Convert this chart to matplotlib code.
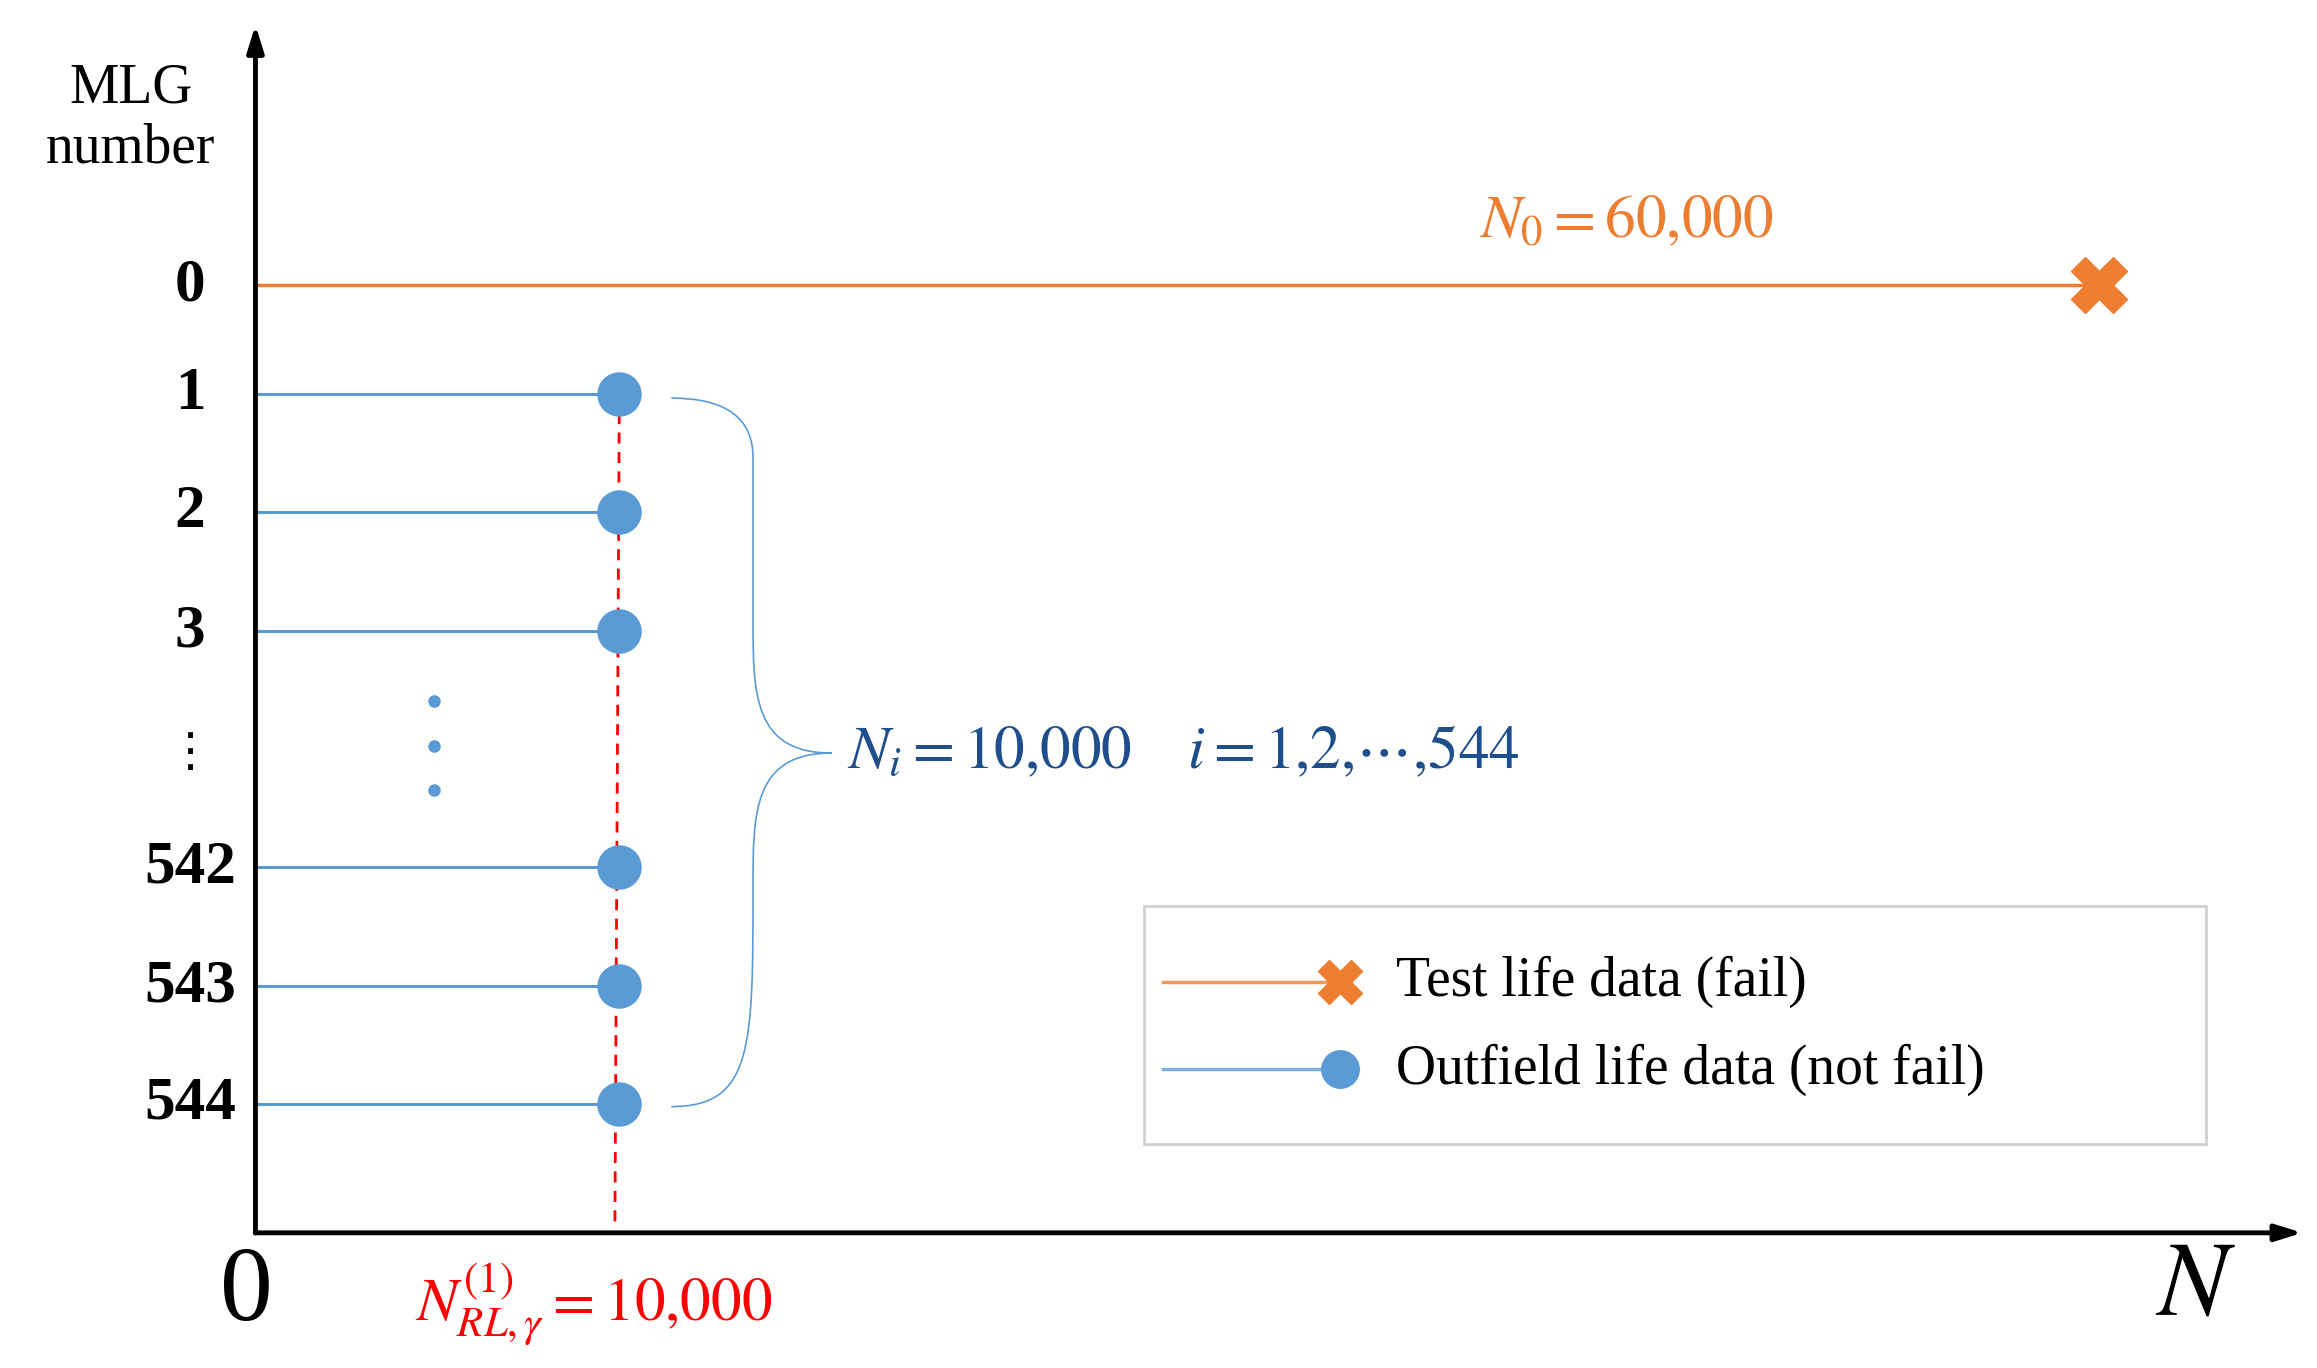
import matplotlib
matplotlib.use("Agg")
import matplotlib.pyplot as plt
from matplotlib.path import Path
from matplotlib.patches import PathPatch, Rectangle

plt.rcParams['font.family'] = ['Liberation Serif', 'DejaVu Sans']
plt.rcParams['mathtext.fontset'] = 'stix'

# Schematic data (positions in drawing units, figure is a sketch)
mlg_labels = ["0", "1", "2", "3", "⋮", "542", "543", "544"]
row_y = [192, 265, 345, 425, 507, 584, 664, 743]
outfield_rows = ["1", "2", "3", "542", "543", "544"]
outfield_life = 417      # N_i = 10,000
test_life = 1413         # N_0 = 60,000
axis_x0, axis_y0 = 172, 830

orange = "#ED7D31"
blue = "#5B9BD5"
dark_blue = "#1F4E8C"

fig = plt.figure(figsize=(23.17, 13.68), dpi=100)
ax = fig.add_axes([0, 0, 1, 1])
ax.set_xlim(0, 1560)
ax.set_ylim(921, 0)
ax.axis("off")

# axes with arrows
ax.annotate("", xy=(axis_x0, 15), xytext=(axis_x0, axis_y0 + 2),
            arrowprops=dict(arrowstyle="-|>,head_length=1.6,head_width=0.5", lw=3.5, color="black"))
ax.annotate("", xy=(1552, axis_y0), xytext=(axis_x0 - 2, axis_y0),
            arrowprops=dict(arrowstyle="-|>,head_length=1.6,head_width=0.5", lw=3.5, color="black"))

# y labels
for lab, y in zip(mlg_labels, row_y):
    if lab == "⋮":
        ax.text(128, y, lab, ha="center", va="center", fontsize=34, family=['DejaVu Sans'])
    else:
        ax.text(128, y, lab, ha="center", va="center", fontsize=44, fontweight="bold")
ax.text(88, 80, "MLG\nnumber", ha="center", va="center", fontsize=40, linespacing=1.2)
ax.text(166, 872, "0", ha="center", va="center", fontsize=76)
ax.text(1478, 868, r"$N$", ha="center", va="center", fontsize=76)

# test life line
ax.plot([axis_x0, test_life], [row_y[0], row_y[0]], color=orange, lw=2.5)
ax.plot([test_life], [row_y[0]], marker="X", color=orange, ms=40, mec=orange)
ax.text(1095, 150, r"$N_0=60{,}000$", color=orange, ha="center", va="center", fontsize=44)

# outfield lines
for lab, y in zip(mlg_labels, row_y):
    if lab in outfield_rows:
        ax.plot([axis_x0, outfield_life], [y, y], color=blue, lw=2.2)
        ax.plot([outfield_life], [y], "o", color=blue, ms=31)
ax.plot([292, 292, 292], [472, 502, 532], "o", color=blue, ms=8)

# red dashed
ax.plot([417, 414], [265, 825], color="red", lw=2, ls=(0, (4, 3)), zorder=0)
ax.text(400, 878, r"$N_{RL,\gamma}^{(1)}=10{,}000$", color="red", ha="center", va="center", fontsize=44)

# brace
top, bot, mid, x0, xm, xt = 268, 745, 507, 452, 507, 560
verts = [(x0, top), (xm, top), (xm, top + 40), (xm, mid - 90),
         (xm, mid - 40), (xm, mid), (xt, mid),
         (xm, mid), (xm, mid + 40), (xm, mid + 90),
         (xm, bot - 40), (xm, bot), (x0, bot)]
codes = [Path.MOVETO, Path.CURVE3, Path.CURVE3, Path.LINETO,
         Path.CURVE4, Path.CURVE4, Path.CURVE4,
         Path.CURVE4, Path.CURVE4, Path.CURVE4,
         Path.CURVE4, Path.CURVE4, Path.CURVE4]
ax.add_patch(PathPatch(Path(verts, codes), fill=False, ec=blue, lw=1.2))
ax.text(570, 507, r"$N_i=10{,}000\quad\; i=1{,}2{,}\cdots{,}544$", color=dark_blue,
        ha="left", va="center", fontsize=44)

# legend
ax.add_patch(Rectangle((770, 610), 715, 160, fill=False, ec="#D0D0D0", lw=2))
ax.plot([783, 902], [661, 661], color=orange, lw=2.5, alpha=0.8)
ax.plot([902], [661], marker="X", color=orange, ms=32)
ax.plot([783, 902], [720, 720], color=blue, lw=2.5, alpha=0.8)
ax.plot([902], [720], "o", color=blue, ms=27)
ax.text(940, 661, "Test life data (fail)", ha="left", va="center", fontsize=40)
ax.text(940, 720, "Outfield life data (not fail)", ha="left", va="center", fontsize=40)

fig.savefig("out.png", dpi=100, facecolor="white")
